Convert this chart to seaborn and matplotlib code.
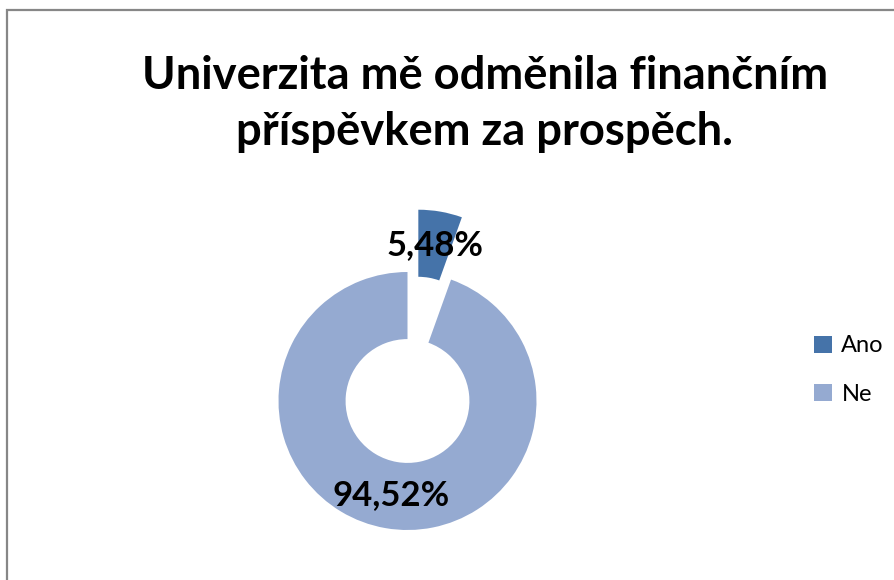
import numpy as np
import matplotlib
matplotlib.use("Agg")
import matplotlib.pyplot as plt
from matplotlib.patches import Rectangle, Patch
import seaborn as sns

# data
kategorie = ["Ano", "Ne"]
podily = [5.48, 94.52]
barvy = ["#4573A9", "#95AAD1"]
nadpis = "Univerzita mě odměnila finančním\npříspěvkem za prospěch."

sns.set_theme(style="white")
plt.rcParams['font.family'] = ['Lato', 'DejaVu Sans']
plt.rcParams['text.color'] = 'black'

W, H = 895, 580
fig = plt.figure(figsize=(W / 100, H / 100), dpi=100)

# okraj grafu
fig.patches.append(Rectangle((7 / W, -0.5), 2.0, (H - 10) / H + 0.5,
                             transform=fig.transFigure, fill=False,
                             edgecolor="#878787", linewidth=1.6))

# kolac - stred (407.5, 401) px, polomer 129 px
R = 129.0
cx, cy = 407.5, H - 401
x0, x1, y0, y1 = -1.3, 1.3, -1.3, 1.8
ax = fig.add_axes([(cx + x0 * R) / W, (cy + y0 * R) / H,
                   (x1 - x0) * R / W, (y1 - y0) * R / H])
wedges, texts, autotexts = ax.pie(
    podily, colors=barvy, startangle=90, counterclock=False,
    explode=[0.49, 0], radius=1,
    wedgeprops=dict(width=0.52, linewidth=0),
    autopct=lambda p: f"{p:.2f}%".replace(".", ","), pctdistance=0.74,
    textprops=dict(fontsize=25, fontweight="bold", color="black"))
ax.set_xlim(x0, x1)
ax.set_ylim(y0, y1)
ax.set_aspect("auto")
ax.axis("off")

fig.text(485 / W, 1 - 104 / H, nadpis, ha="center", va="center",
         fontsize=32.7, fontweight="bold", linespacing=1.42, color="black")

handles = [Patch(facecolor=c, edgecolor="none") for c in barvy]
fig.legend(handles, kategorie, loc="center left",
           bbox_to_anchor=(793 / W, 1 - 370 / H), frameon=False,
           fontsize=17, handlelength=0.75, handleheight=0.75,
           handletextpad=0.4, labelspacing=1.15, labelcolor="black")

fig.savefig("out.png", dpi=100)
